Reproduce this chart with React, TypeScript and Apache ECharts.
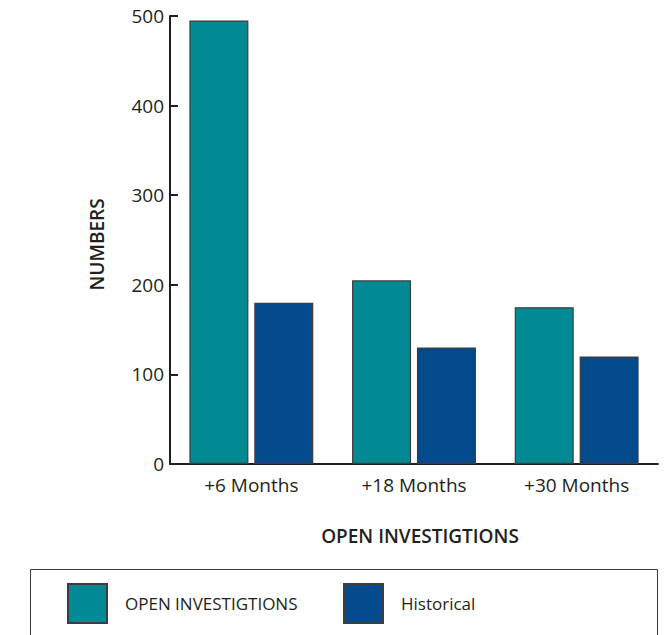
import React, { useEffect, useRef } from "react";
import * as echarts from "echarts";

const categories = ["+6 Months", "+18 Months", "+30 Months"];
const openInvestigations = [495, 205, 175];
const historical = [180, 130, 120];
const seriesNames = ["OPEN INVESTIGTIONS", "Historical"];
const yTicks = { min: 0, max: 500, interval: 100 };

const FONT = "'Open Sans', 'Noto Sans', sans-serif";
const TEXT = "#231f20";

export default function App() {
  const ref = useRef<HTMLDivElement>(null);
  useEffect(() => {
    const chart = echarts.init(ref.current!, null, { renderer: "svg" });
    chart.setOption({
      animation: false,
      backgroundColor: "#ffffff",
      textStyle: { fontFamily: FONT },
      grid: { left: 170, top: 16, width: 488, height: 448, containLabel: false },
      xAxis: {
        type: "category",
        data: categories,
        name: "OPEN INVESTIGTIONS",
        nameLocation: "middle",
        nameGap: 62,
        nameTextStyle: {
          fontSize: 19,
          color: TEXT,
          fontWeight: 600,
          fontFamily: FONT,
          padding: [0, 0, 0, 12],
        },
        axisLine: { lineStyle: { color: TEXT, width: 2 } },
        axisTick: { inside: true, length: 9, lineStyle: { color: TEXT, width: 2 } },
        axisLabel: { fontSize: 19, color: TEXT, margin: 11, fontFamily: FONT },
      },
      yAxis: {
        type: "value",
        min: yTicks.min,
        max: yTicks.max,
        interval: yTicks.interval,
        name: "NUMBERS",
        nameLocation: "middle",
        nameGap: 64,
        nameTextStyle: {
          fontSize: 19,
          color: TEXT,
          fontWeight: 600,
          fontFamily: FONT,
          padding: [0, 9, 0, 0],
        },
        axisLine: { show: true, lineStyle: { color: TEXT, width: 2 } },
        axisTick: { show: true, inside: true, length: 8, lineStyle: { color: TEXT, width: 2 } },
        axisLabel: { fontSize: 19, color: TEXT, margin: 6, fontFamily: FONT },
        splitLine: { show: false },
      },
      legend: [
        {
          data: [{ name: seriesNames[0], icon: "rect" }],
          left: 67,
          top: 583,
          itemWidth: 39,
          itemHeight: 39,
          padding: 0,
          textStyle: { fontSize: 17, color: TEXT, padding: [0, 0, 0, 13], fontFamily: FONT },
        },
        {
          data: [{ name: seriesNames[1], icon: "rect" }],
          left: 343,
          top: 583,
          itemWidth: 39,
          itemHeight: 39,
          padding: 0,
          textStyle: { fontSize: 17, color: TEXT, padding: [0, 0, 0, 13], fontFamily: FONT },
        },
      ],
      graphic: [
        {
          type: "rect",
          shape: { x: 30.5, y: 569.5, width: 627, height: 80 },
          style: { fill: "none", stroke: "#3a3a3a", lineWidth: 1 },
          silent: true,
        },
      ],
      series: [
        {
          name: seriesNames[0],
          type: "bar",
          data: openInvestigations,
          barWidth: 59,
          barGap: "10%",
          itemStyle: { color: "#028a94", borderColor: "#3d3d3d", borderWidth: 1.2 },
        },
        {
          name: seriesNames[1],
          type: "bar",
          data: historical,
          barWidth: 59,
          barGap: "10%",
          itemStyle: { color: "#024a8c", borderColor: "#3d3d3d", borderWidth: 1.2 },
        },
      ],
    });
    return () => chart.dispose();
  }, []);
  return (
    <div
      ref={ref}
      style={{ position: "fixed", left: 0, top: 0, width: 669, height: 635 }}
    />
  );
}
